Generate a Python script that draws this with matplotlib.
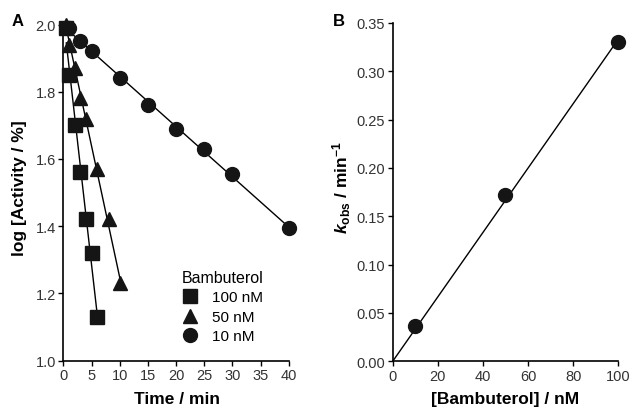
import numpy as np
import matplotlib
matplotlib.use("Agg")
import matplotlib.pyplot as plt

plt.rcParams['font.family'] = ['Liberation Sans', 'DejaVu Sans']
plt.rcParams['mathtext.fontset'] = 'custom'
plt.rcParams['mathtext.rm'] = 'Liberation Sans:bold'
plt.rcParams['mathtext.bf'] = 'Liberation Sans:bold'
plt.rcParams['mathtext.it'] = 'Liberation Sans:italic:bold'

# panel A: log residual activity vs time
t100 = [0.5, 1, 2, 3, 4, 5, 6]
a100 = [1.99, 1.85, 1.70, 1.56, 1.42, 1.32, 1.13]
t50 = [0.5, 1, 2, 3, 4, 6, 8, 10]
a50 = [2.0, 1.94, 1.87, 1.78, 1.72, 1.57, 1.42, 1.23]
t10 = [1, 3, 5, 10, 15, 20, 25, 30, 40]
a10 = [1.99, 1.95, 1.92, 1.84, 1.76, 1.69, 1.63, 1.555, 1.395]
series_labels = ['100 nM', '50 nM', '10 nM']

# panel B: kobs vs concentration
conc = [10, 50, 100]
kobs = [0.037, 0.172, 0.330]

ink = '#151515'
tickc = '#333333'

fig = plt.figure(figsize=(6.31, 4.10), dpi=100)
axA = fig.add_axes([0.1006, 0.1178, 0.3569, 0.8200])
axB = fig.add_axes([0.6223, 0.1163, 0.3575, 0.8252])

for t, a, m, ms, lab in [(t100, a100, 's', 9.5, series_labels[0]),
                         (t50, a50, '^', 10, series_labels[1]),
                         (t10, a10, 'o', 10, series_labels[2])]:
    t = np.array(t, float)
    p = np.polyfit(t, a, 1)
    xx = np.array([t[0], t[-1]])
    axA.plot(xx, np.polyval(p, xx), color='black', lw=1.0, zorder=2)
    axA.plot(t, a, linestyle='none', marker=m, ms=ms, color=ink,
             mec=ink, label=lab, zorder=3, clip_on=False)

axA.set_xlim(0, 40)
axA.set_ylim(1.0, 2.0)
axA.set_xticks(np.arange(0, 41, 5))
axA.set_yticks([1.0, 1.2, 1.4, 1.6, 1.8, 2.0])
axA.yaxis.set_major_formatter(matplotlib.ticker.FormatStrFormatter('%.1f'))

leg = axA.legend(title='Bambuterol', loc='upper left',
                 bbox_to_anchor=(0.527, 0.27), frameon=False,
                 fontsize=11, title_fontsize=11.5, handletextpad=0.9,
                 labelspacing=0.36, borderpad=0, borderaxespad=0,
                 handlelength=1.05, alignment='left')

# panel B
xs = np.array(conc, float)
ys = np.array(kobs, float)
slope = np.sum(xs * ys) / np.sum(xs * xs)
xx = np.array([0, 100])
axB.plot(xx, slope * xx, color='black', lw=1.0, zorder=2)
axB.plot(conc, kobs, linestyle='none', marker='o', ms=10, color=ink,
         mec=ink, zorder=3, clip_on=False)
axB.set_xlim(0, 100)
axB.set_ylim(0, 0.35)
axB.set_xticks(np.arange(0, 101, 20))
axB.set_yticks(np.arange(0, 0.351, 0.05))
axB.yaxis.set_major_formatter(matplotlib.ticker.FormatStrFormatter('%.2f'))

for ax in (axA, axB):
    for s in ('top', 'right'):
        ax.spines[s].set_visible(False)
    for s in ('left', 'bottom'):
        ax.spines[s].set_linewidth(1.2)
        ax.spines[s].set_color('black')
    ax.tick_params(direction='out', length=3.5, width=1.0, labelsize=10.5,
                   labelcolor=tickc, pad=2)

# axis labels and panel letters
fig.text(177 / 631, 1 - 400 / 410, 'Time / min', ha='center', va='center',
         fontsize=12.5, fontweight='bold')
fig.text(20 / 631, 1 - 188 / 410, 'log [Activity / %]', ha='center',
         va='center', rotation=90, fontsize=12.5, fontweight='bold')
fig.text(505 / 631, 1 - 400 / 410, '[Bambuterol] / nM', ha='center',
         va='center', fontsize=12.5, fontweight='bold')
fig.text(342 / 631, 1 - 188 / 410,
         r'$k_{\mathrm{obs}}$ / min$^{\mathrm{-1}}$', ha='center',
         va='center', rotation=90, fontsize=12.5, fontweight='bold')
fig.text(18 / 631, 1 - 22 / 410, 'A', ha='center', va='center',
         fontsize=12, fontweight='bold')
fig.text(339 / 631, 1 - 22 / 410, 'B', ha='center', va='center',
         fontsize=12, fontweight='bold')

fig.savefig('out.png', dpi=100)
